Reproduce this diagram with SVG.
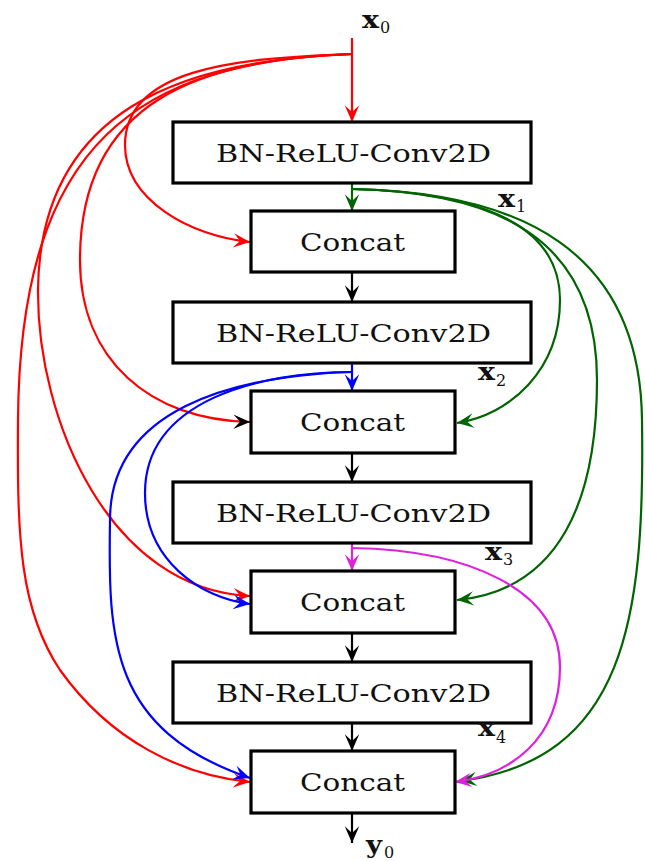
<svg xmlns="http://www.w3.org/2000/svg" width="645" height="861" viewBox="0 0 645 861">
<style>
.box{fill:#fff;stroke:#000;stroke-width:3.2}
.lbl{font-family:"DejaVu Serif","Liberation Serif",serif;font-size:25px;fill:#111}
.var{font-family:"DejaVu Serif","Liberation Serif",serif;font-size:24px;font-weight:bold;fill:#111}
.sub{font-family:"DejaVu Serif","Liberation Serif",serif;font-size:16px;fill:#111}
.c{fill:none;stroke-width:2.2}
.r{stroke:#ff0000}.g{stroke:#006400}.b{stroke:#0000ff}.m{stroke:#dd22dd}.k{stroke:#000}
</style>
<defs>
<marker id="aR" markerUnits="userSpaceOnUse" markerWidth="20" markerHeight="20" viewBox="-16 -8 18 16" refX="0" refY="0" orient="auto"><path d="M0,0 L-15,-6.5 L-9,0 L-15,6.5 Z" fill="#ff0000"/></marker>
<marker id="aG" markerUnits="userSpaceOnUse" markerWidth="20" markerHeight="20" viewBox="-16 -8 18 16" refX="0" refY="0" orient="auto"><path d="M0,0 L-15,-6.5 L-9,0 L-15,6.5 Z" fill="#006400"/></marker>
<marker id="aB" markerUnits="userSpaceOnUse" markerWidth="20" markerHeight="20" viewBox="-16 -8 18 16" refX="0" refY="0" orient="auto"><path d="M0,0 L-15,-6.5 L-9,0 L-15,6.5 Z" fill="#0000ff"/></marker>
<marker id="aM" markerUnits="userSpaceOnUse" markerWidth="20" markerHeight="20" viewBox="-16 -8 18 16" refX="0" refY="0" orient="auto"><path d="M0,0 L-15,-6.5 L-9,0 L-15,6.5 Z" fill="#dd22dd"/></marker>
<marker id="aK" markerUnits="userSpaceOnUse" markerWidth="20" markerHeight="20" viewBox="-16 -8 18 16" refX="0" refY="0" orient="auto"><path d="M0,0 L-15,-6.5 L-9,0 L-15,6.5 Z" fill="#000"/></marker>
</defs>
<g id="connectors">
<path class="c r" d="M352,38 V122" marker-end="url(#aR)"/>
<path class="c r" d="M352,54 C230,58 125,70 125,145 C125,200 190,236 250,242" marker-end="url(#aR)"/>
<path class="c r" d="M352,54 C200,60 80,100 80,260 C80,360 150,420 250,422" marker-end="url(#aK)"/>
<path class="c r" d="M352,54 C180,60 40,110 38,290 C37,420 110,590 250,596" marker-end="url(#aR)"/>
<path class="c r" d="M352,54 C140,62 20,140 18,420 C17,540 20,610 60,670 C110,740 180,775 250,782" marker-end="url(#aR)"/>
<path class="c g" d="M352,183 V211" marker-end="url(#aG)"/>
<path class="c g" d="M352,189 C470,192 560,220 560,300 C560,370 510,415 457,423" marker-end="url(#aG)"/>
<path class="c g" d="M352,189 C500,192 597,240 597,380 C597,500 560,590 457,600" marker-end="url(#aG)"/>
<path class="c g" d="M352,189 C520,192 640,250 642,420 C645,620 625,760 460,781" marker-end="url(#aG)"/>
<path class="c b" d="M352,363 V391" marker-end="url(#aB)"/>
<path class="c b" d="M352,372 C260,372 145,400 145,493 C145,560 200,598 250,604" marker-end="url(#aB)"/>
<path class="c b" d="M352,372 C230,376 110,410 110,520 C108,640 110,730 250,778" marker-end="url(#aB)"/>
<path class="c m" d="M352,543 V571" marker-end="url(#aM)"/>
<path class="c m" d="M352,548 C470,550 560,590 560,667 C560,740 510,775 455,782" marker-end="url(#aM)"/>
<path class="c k" d="M352,272 V302" marker-end="url(#aK)"/>
<path class="c k" d="M352,453 V482" marker-end="url(#aK)"/>
<path class="c k" d="M352,633 V662" marker-end="url(#aK)"/>
<path class="c k" d="M352,723 V751" marker-end="url(#aK)"/>
<path class="c k" d="M352,813 V843" marker-end="url(#aK)"/>
</g>
<g id="bn1"><rect class="box" x="173" y="122" width="358" height="61"/><text class="lbl" x="216" y="162" textLength="275" lengthAdjust="spacingAndGlyphs">BN-ReLU-Conv2D</text></g>
<g id="concat1"><rect class="box" x="251" y="211" width="204" height="61"/><text class="lbl" x="300" y="251" textLength="105" lengthAdjust="spacingAndGlyphs">Concat</text></g>
<g id="bn2"><rect class="box" x="173" y="302" width="358" height="61"/><text class="lbl" x="216" y="342" textLength="275" lengthAdjust="spacingAndGlyphs">BN-ReLU-Conv2D</text></g>
<g id="concat2"><rect class="box" x="251" y="391" width="204" height="62"/><text class="lbl" x="300" y="431" textLength="105" lengthAdjust="spacingAndGlyphs">Concat</text></g>
<g id="bn3"><rect class="box" x="173" y="482" width="358" height="61"/><text class="lbl" x="216" y="522" textLength="275" lengthAdjust="spacingAndGlyphs">BN-ReLU-Conv2D</text></g>
<g id="concat3"><rect class="box" x="251" y="571" width="204" height="62"/><text class="lbl" x="300" y="611" textLength="105" lengthAdjust="spacingAndGlyphs">Concat</text></g>
<g id="bn4"><rect class="box" x="173" y="662" width="358" height="61"/><text class="lbl" x="216" y="702" textLength="275" lengthAdjust="spacingAndGlyphs">BN-ReLU-Conv2D</text></g>
<g id="concat4"><rect class="box" x="251" y="751" width="204" height="62"/><text class="lbl" x="300" y="791" textLength="105" lengthAdjust="spacingAndGlyphs">Concat</text></g>
<g id="labels">
<text x="362" y="28"><tspan class="var" textLength="17" lengthAdjust="spacingAndGlyphs">x</tspan><tspan class="sub" x="380" y="33">0</tspan></text>
<text x="498" y="207"><tspan class="var" textLength="17" lengthAdjust="spacingAndGlyphs">x</tspan><tspan class="sub" x="516" y="212">1</tspan></text>
<text x="478" y="380"><tspan class="var" textLength="17" lengthAdjust="spacingAndGlyphs">x</tspan><tspan class="sub" x="496" y="386">2</tspan></text>
<text x="485" y="560"><tspan class="var" textLength="17" lengthAdjust="spacingAndGlyphs">x</tspan><tspan class="sub" x="503" y="565">3</tspan></text>
<text x="478" y="736"><tspan class="var" textLength="17" lengthAdjust="spacingAndGlyphs">x</tspan><tspan class="sub" x="496" y="743">4</tspan></text>
<text x="366" y="853"><tspan class="var" textLength="16" lengthAdjust="spacingAndGlyphs">y</tspan><tspan class="sub" x="384" y="858">0</tspan></text>
</g>
</svg>
